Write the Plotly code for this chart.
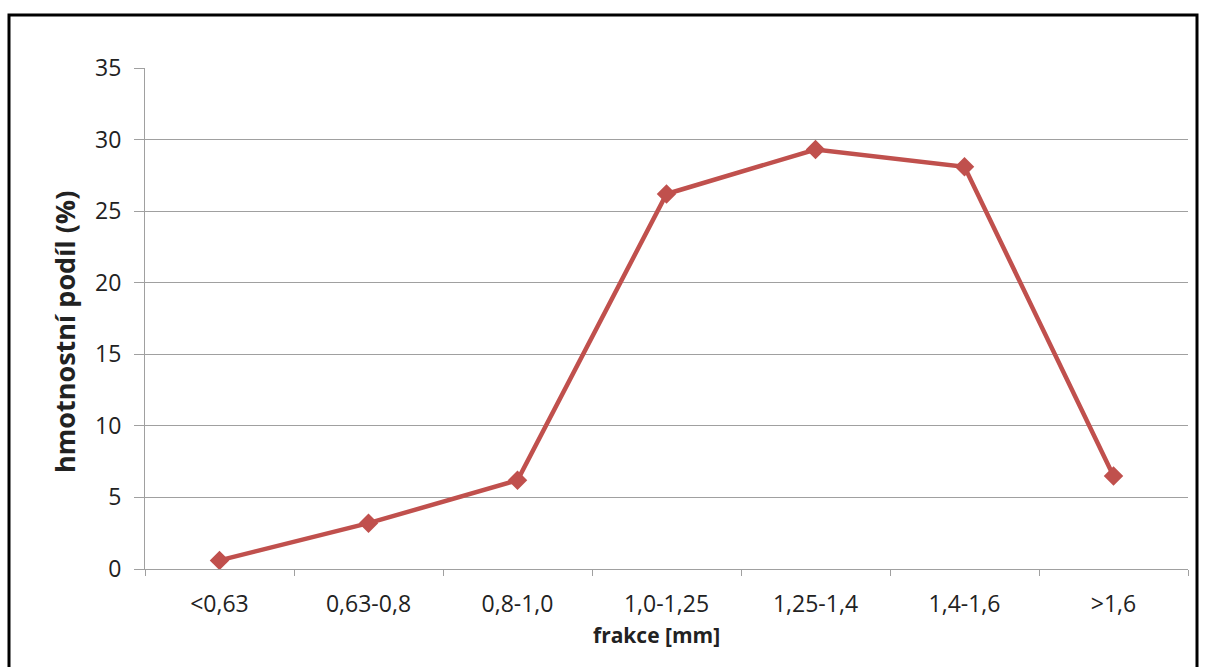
import plotly.graph_objects as go

categories = ["<0,63", "0,63-0,8", "0,8-1,0", "1,0-1,25", "1,25-1,4", "1,4-1,6", ">1,6"]
values = [0.6, 3.2, 6.2, 26.2, 29.3, 28.1, 6.5]
y_ticks = [0, 5, 10, 15, 20, 25, 30, 35]

L, R, T, B = 145, 19, 68, 98
W, H = 1207, 667
pw = W - L - R
ph = H - T - B

fig = go.Figure()
fig.add_trace(go.Scatter(
    x=categories, y=values, mode="lines+markers",
    line=dict(color="#c0504d", width=4.5),
    marker=dict(symbol="diamond", size=15, color="#c0504d"),
    showlegend=False,
))

font = "Open Sans, Liberation Sans, sans-serif"
fig.update_layout(
    width=W, height=H,
    margin=dict(l=L, r=R, t=T, b=B),
    paper_bgcolor="white", plot_bgcolor="white",
    font=dict(family=font, size=23, color="#333333"),
    xaxis=dict(
        type="category", tickson="boundaries", ticks="outside", ticklen=6,
        tickcolor="#a0a0a0", showline=True, linecolor="#a0a0a0", linewidth=1,
        showgrid=False, range=[-0.5, 6.5], ticklabelstandoff=14,
        tickfont=dict(size=23, color="#222222"),
    ),
    yaxis=dict(
        range=[0, 35], tickvals=y_ticks, ticks="outside", ticklen=10,
        tickcolor="#a0a0a0", showline=True, linecolor="#a0a0a0", linewidth=1,
        showgrid=True, gridcolor="#a0a0a0", gridwidth=1, zeroline=False,
        ticklabelstandoff=8,
        tickfont=dict(size=23, color="#222222"),
    ),
    annotations=[
        dict(text="<b>frakce [mm]</b>", xref="paper", yref="paper",
             x=(656 - L) / pw, y=(H - B - 635) / ph, showarrow=False,
             xanchor="center", yanchor="middle",
             font=dict(size=21, color="#222222")),
        dict(text="<b>hmotnostní podíl (%)</b>", xref="paper", yref="paper",
             x=(65 - L) / pw, y=(H - B - 332) / ph, showarrow=False,
             xanchor="center", yanchor="middle", textangle=-90,
             font=dict(size=27, color="#222222")),
    ],
)

# outer frame
fig.add_shape(
    type="rect", xref="paper", yref="paper",
    x0=(9 - L) / pw, x1=(1197 - L) / pw,
    y0=(H - B - 680) / ph, y1=(H - B - 15) / ph,
    line=dict(color="black", width=3), fillcolor="rgba(0,0,0,0)", layer="above",
)

fig.write_html("out.html")
